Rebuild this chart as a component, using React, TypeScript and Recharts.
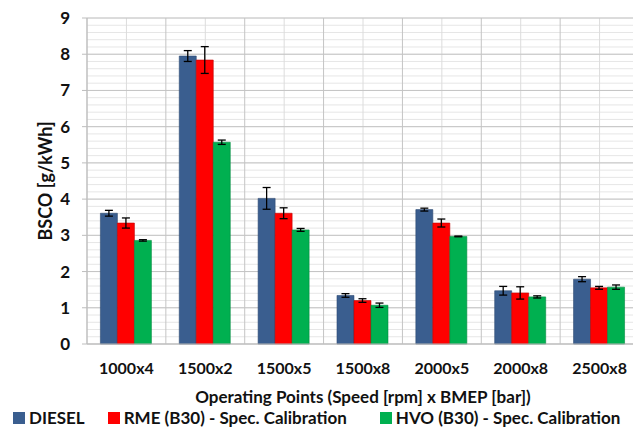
import React from 'react';
import {
    BarChart,
    Bar,
    XAxis,
    YAxis,
    CartesianGrid,
    ErrorBar,
    Legend,
} from 'recharts';

const categories = ['1000x4', '1500x2', '1500x5', '1500x8', '2000x5', '2000x8', '2500x8'];
const diesel = [3.61, 7.95, 4.02, 1.34, 3.71, 1.47, 1.79];
const rme = [3.34, 7.84, 3.61, 1.2, 3.34, 1.41, 1.55];
const hvo = [2.86, 5.57, 3.15, 1.07, 2.97, 1.3, 1.57];
const dieselErr = [0.08, 0.15, 0.3, 0.05, 0.04, 0.12, 0.07];
const rmeErr = [0.14, 0.37, 0.15, 0.05, 0.11, 0.17, 0.04];
const hvoErr = [0.02, 0.06, 0.04, 0.06, 0.01, 0.03, 0.06];
const yTicks = [0, 1, 2, 3, 4, 5, 6, 7, 8, 9];

const seriesNames = ['DIESEL', 'RME (B30) - Spec. Calibration', 'HVO (B30) - Spec. Calibration'];
const BLUE = '#3a5e8f';
const RED = '#ff0000';
const GREEN = '#00b050';
const FONT = 'Lato, "Noto Sans", sans-serif';

const data = categories.map((c, i) => ({
    name: c,
    diesel: diesel[i],
    rme: rme[i],
    hvo: hvo[i],
    dieselErr: dieselErr[i],
    rmeErr: rmeErr[i],
    hvoErr: hvoErr[i],
}));

// minor lines every 0.2, majors on the integers
const minorY = ({ offset }: any) => {
    const out: number[] = [];
    for (let k = 0; k <= 45; k++) out.push(offset.top + (offset.height * k) / 45);
    return out;
};
const majorY = ({ offset }: any) => yTicks.map((t) => offset.top + offset.height * (1 - t / 9));
const majorX = ({ offset }: any) =>
    categories.map((_, i) => offset.left + (offset.width * i) / categories.length);
const minorX = ({ offset }: any) =>
    categories.map((_, i) => offset.left + (offset.width * (i + 0.5)) / categories.length);

const LegendBox = () => {
    const colors = [BLUE, RED, GREEN];
    const gaps = [23, 33, 0];
    return (
        <div style={{ display: 'flex', alignItems: 'center', paddingLeft: 13, paddingTop: 3, fontFamily: FONT, fontWeight: 700, fontSize: 17, color: '#111', whiteSpace: 'nowrap' }}>
            {seriesNames.map((n, i) => (
                <div key={n} style={{ display: 'flex', alignItems: 'center', marginRight: gaps[i] }}>
                    <span style={{ width: 12, height: 12, background: colors[i], display: 'inline-block', marginRight: 4 }} />
                    <span>{n}</span>
                </div>
            ))}
        </div>
    );
};

const App: React.FC = () => {
    return (
        <div style={{ position: 'fixed', left: 0, top: 0, width: 633, height: 427, overflow: 'hidden', background: '#fff' }}>
            <BarChart
                width={640}
                height={427}
                data={data}
                margin={{ top: 18, right: 1, left: 0, bottom: 0 }}
                barGap={0}
                barCategoryGap="17%"
            >
                <CartesianGrid stroke="#e6e6e6" vertical={false} horizontalCoordinatesGenerator={minorY} />
                <CartesianGrid stroke="#dcdcdc" horizontal={false} verticalCoordinatesGenerator={minorX} />
                <CartesianGrid stroke="#c4c4c4" horizontalCoordinatesGenerator={majorY} verticalCoordinatesGenerator={majorX} />
                <XAxis
                    dataKey="name"
                    stroke="#bdbdbd"
                    tickLine={false}
                    tickMargin={13}
                    tick={{ fill: '#111', fontSize: 16, fontWeight: 700, fontFamily: FONT }}
                    height={60}
                    label={{
                        value: 'Operating  Points (Speed [rpm] x BMEP [bar])',
                        position: 'insideBottom',
                        offset: 1,
                        fill: '#111',
                        fontSize: 17,
                        fontWeight: 700,
                        fontFamily: FONT,
                    }}
                />
                <YAxis
                    domain={[0, 9]}
                    ticks={yTicks}
                    width={87}
                    stroke="#bdbdbd"
                    tickSize={5}
                    tickMargin={12}
                    tick={{ fill: '#111', fontSize: 17, fontWeight: 700, fontFamily: FONT }}
                    label={{
                        value: 'BSCO [g/kWh]',
                        angle: -90,
                        position: 'insideLeft',
                        offset: 46,
                        style: { textAnchor: 'middle' },
                        fill: '#111',
                        fontSize: 18,
                        fontWeight: 700,
                        fontFamily: FONT,
                    }}
                />
                <Legend verticalAlign="bottom" height={23} content={<LegendBox />} />
                <Bar dataKey="diesel" name={seriesNames[0]} fill={BLUE} stroke="#2e4a72" strokeWidth={0.6} isAnimationActive={false}>
                    <ErrorBar dataKey="dieselErr" width={4} stroke="#000" strokeWidth={1.3} />
                </Bar>
                <Bar dataKey="rme" name={seriesNames[1]} fill={RED} stroke="#c00000" strokeWidth={0.6} isAnimationActive={false}>
                    <ErrorBar dataKey="rmeErr" width={4} stroke="#000" strokeWidth={1.3} />
                </Bar>
                <Bar dataKey="hvo" name={seriesNames[2]} fill={GREEN} stroke="#008a40" strokeWidth={0.6} isAnimationActive={false}>
                    <ErrorBar dataKey="hvoErr" width={4} stroke="#000" strokeWidth={1.3} />
                </Bar>
            </BarChart>
        </div>
    );
};

export default App;
